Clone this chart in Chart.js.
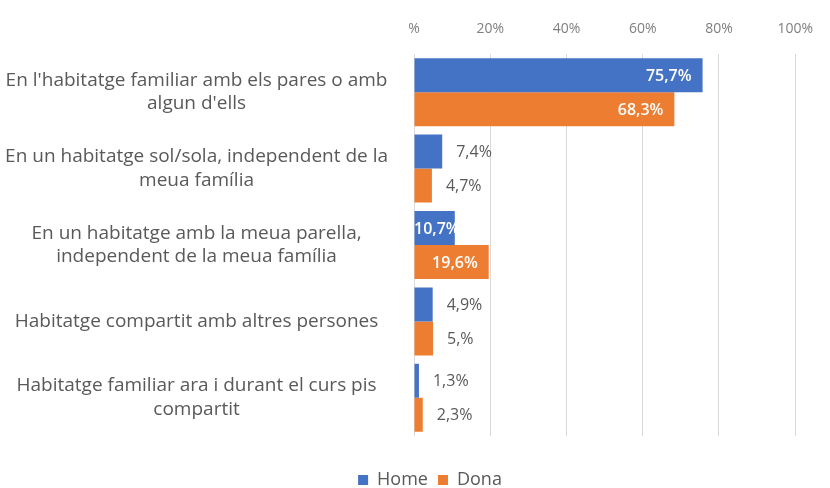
<!DOCTYPE html>
<html>
<head>
<meta charset="utf-8">
<script src="https://cdn.jsdelivr.net/npm/chart.js@4"></script>
<style>
body{margin:0;background:#fff;}
#wrap{width:830px;height:488px;}
</style>
</head>
<body>
<div id="wrap"><canvas id="chart" width="830" height="488"></canvas></div>
<script>
// data
const categories = [
  ["En l'habitatge familiar amb els pares o amb", "algun d'ells"],
  ["En un habitatge sol/sola, independent de la", "meua família"],
  ["En un habitatge amb la meua parella,", "independent de la meua família"],
  ["Habitatge compartit amb altres persones"],
  ["Habitatge familiar ara i durant el curs pis", "compartit"]
];
const homeValues = [75.7, 7.4, 10.7, 4.9, 1.3];
const donaValues = [68.3, 4.7, 19.6, 5.0, 2.3];
const xTickLabels = ["%", "20%", "40%", "60%", "80%", "100%"];

const BLUE = "#4472C4";
const ORANGE = "#ED7D31";
const FONT = "'Open Sans', sans-serif";

// spreadsheet style "0,#%" : 5.0 -> "5,%"
function fmt(v){
  let s = v.toFixed(1);
  if (s.endsWith(".0")) s = s.slice(0, -1);
  return s.replace(".", ",") + "%";
}

// labels at the end of each bar
const valueLabels = {
  id: "valueLabels",
  afterDatasetsDraw(chart){
    const ctx = chart.ctx;
    const left = chart.chartArea.left;
    chart.data.datasets.forEach((ds, i) => {
      const meta = chart.getDatasetMeta(i);
      meta.data.forEach((bar, j) => {
        const v = ds.data[j];
        const txt = fmt(v);
        ctx.save();
        ctx.textBaseline = "middle";
        if (v > 10) {
          ctx.font = "600 16px " + FONT;
          const w = ctx.measureText(txt).width;
          ctx.fillStyle = "#ffffff";
          ctx.textAlign = "right";
          ctx.fillText(txt, Math.max(bar.x - 11, left + w), bar.y + 1);
        } else {
          ctx.font = "16px " + FONT;
          ctx.fillStyle = "#595959";
          ctx.textAlign = "left";
          ctx.fillText(txt, bar.x + 14, bar.y + 1);
        }
        ctx.restore();
      });
    });
  }
};

// the legend sits a bit right of the page centre in the original
const legendShift = {
  id: "legendShift",
  afterLayout(chart){
    chart.legend.left += 26;
    chart.legend.right += 26;
  }
};

new Chart(document.getElementById("chart"), {
  type: "bar",
  data: {
    labels: categories,
    datasets: [
      {label: "Home", data: homeValues, backgroundColor: BLUE},
      {label: "Dona", data: donaValues, backgroundColor: ORANGE}
    ]
  },
  options: {
    indexAxis: "y",
    responsive: false,
    animation: false,
    layout: {padding: {left: 0, right: 22, top: 0, bottom: -11}},
    datasets: {bar: {categoryPercentage: 0.89, barPercentage: 1}},
    scales: {
      x: {
        position: "top",
        min: 0,
        max: 100,
        afterFit(s){ s.height = 54; },
        afterBuildTicks(s){ s.ticks = xTickLabels.map((t, i) => ({value: i * 20})); },
        grid: {color: "#d9d9d9", drawTicks: false},
        border: {display: false},
        ticks: {
          padding: 17,
          color: "#7f7f7f",
          font: {family: FONT, size: 14},
          callback: (v, i) => xTickLabels[i]
        }
      },
      y: {
        afterFit(s){ s.width = 414; },
        grid: {display: false},
        border: {display: false},
        ticks: {
          padding: 18,
          crossAlign: "center",
          color: "#595959",
          font: {family: FONT, size: 19, lineHeight: 1.25}
        }
      }
    },
    plugins: {
      tooltip: {enabled: false},
      legend: {
        position: "bottom",
        title: {display: true, text: " ", font: {size: 10}, padding: {top: 13, bottom: 0}},
        labels: {
          boxWidth: 10,
          boxHeight: 10,
          padding: 10,
          color: "#595959",
          font: {family: FONT, size: 18}
        }
      }
    }
  },
  plugins: [valueLabels, legendShift]
});
</script>
</body>
</html>
